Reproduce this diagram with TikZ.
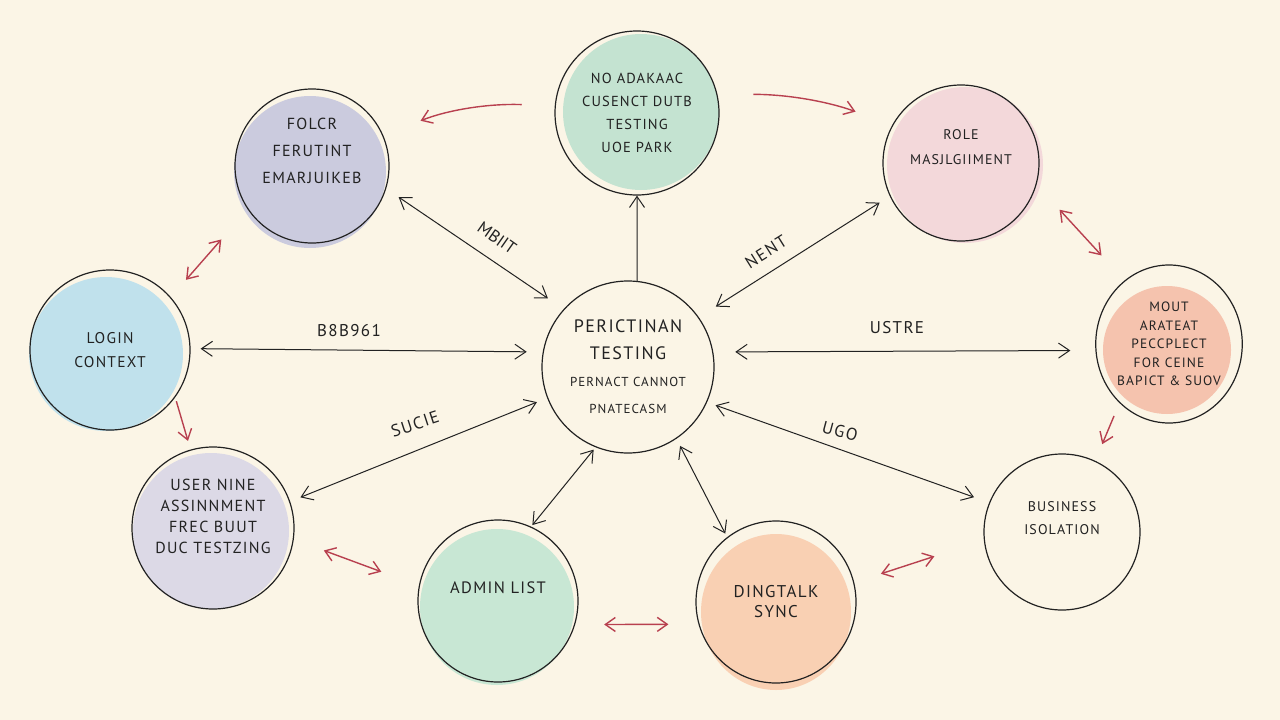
\documentclass[tikz,border=0pt]{standalone}
\usepackage{fontspec}
\setmainfont{PT Sans}[LetterSpace=8]
\usetikzlibrary{arrows.meta,shapes.geometric}
\definecolor{bg}{HTML}{FBF5E6}
\definecolor{redarrow}{HTML}{B8404F}
\definecolor{ink}{HTML}{222222}
\definecolor{fgreen}{HTML}{C4E3D1}
\definecolor{flav}{HTML}{CBCBDE}
\definecolor{fpink}{HTML}{F3D8DA}
\definecolor{fsalmon}{HTML}{F5C3AE}
\definecolor{fblue}{HTML}{C0E1EC}
\definecolor{flav2}{HTML}{DCD9E6}
\definecolor{fgreen2}{HTML}{C8E7D4}
\definecolor{fpeach}{HTML}{F9D0B3}
\tikzset{
  bub/.style={circle, draw=ink, line width=1.2pt, align=center, inner sep=0pt, text=ink},
  egg/.style={ellipse, draw=ink, line width=1.2pt, align=center, inner sep=0pt, text=ink},
  conn/.style={draw=ink, line width=1pt, >={Straight Barb[length=11pt,width=15pt]}},
  redc/.style={draw=redarrow, line width=1.4pt, >={Straight Barb[length=10pt,width=14pt]}},
  lab/.style={text=ink, inner sep=1pt, font=\fontsize{17}{20}\selectfont}
}
\begin{document}
\begin{tikzpicture}[x=1pt,y=-1pt]
\fill[bg] (0,0) rectangle (1280,720);
\useasboundingbox (0,0) rectangle (1280,720);
% colour washes
\fill[fgreen] (641,112) circle[radius=78];
\fill[flav] (310,172) circle[radius=76];
\fill[fpink] (965,165) circle[radius=78];
\fill[fsalmon] (1167,350) circle[radius=64];
\fill[fblue] (106,354) circle[radius=77];
\fill[flav2] (211,531) circle[radius=78];
\fill[fgreen2] (497,607) ellipse[x radius=77, y radius=78];
\fill[fpeach] (776,612) ellipse[x radius=75, y radius=78];
% nodes
\node[bub, minimum size=172pt, font=\fontsize{18}{27}\selectfont] (c) at (628,367)
  {PERICTINAN\\TESTING\\{\fontsize{13}{22}\selectfont PERNACT CANNOT}\\{\fontsize{13}{22}\selectfont PNATECASM}};
\node[bub, minimum size=164pt, font=\fontsize{14.5}{23}\selectfont] (T) at (637,113)
  {NO ADAKAAC\\CUSENCT DUTB\\TESTING\\UOE PARK};
\node[bub, minimum size=154pt, font=\fontsize{16}{27}\selectfont] (TL) at (312,166)
  {FOLCR\\FERUTINT\\EMARJUIKEB\\[4pt]};
\node[bub, minimum size=156pt, font=\fontsize{14}{25}\selectfont] (R) at (961,163)
  {ROLE\\MASJLGIIMENT\\[6pt]};
\node[egg, minimum width=142pt, minimum height=158pt, font=\fontsize{13.5}{18.5}\selectfont] (M) at (1169,344)
  {MOUT\\ARATEAT\\PECCPLECT\\FOR CEINE\\BAPICT \& SUOV};
\node[bub, minimum size=160pt, font=\fontsize{15.5}{24}\selectfont] (L) at (110,350)
  {LOGIN\\CONTEXT};
\node[bub, minimum size=162pt, font=\fontsize{16}{21}\selectfont] (U) at (213,528)
  {USER NINE\\ASSINNMENT\\FREC BUUT\\DUC TESTZING\\[2pt]};
\node[egg, minimum width=160pt, minimum height=162pt, font=\fontsize{16.5}{20}\selectfont] (A) at (498,601)
  {ADMIN LIST\\[6pt]};
\node[egg, minimum width=160pt, minimum height=162pt, font=\fontsize{17}{20}\selectfont] (D) at (776,602)
  {DINGTALK\\SYNC};
\node[bub, minimum size=156pt, font=\fontsize{14}{23}\selectfont] (B) at (1062,532)
  {BUSINESS\\ISOLATION\\[4pt]};
% black connectors
\draw[conn,<->,shorten <=15pt,shorten >=19pt] (TL.-17) -- (c.138);
\draw[conn,->] (c.84) -- (T.-90);
\draw[conn,<->,shorten <=20pt,shorten >=12pt] (c.35) -- (R.-155);
\draw[conn,<->,shorten <=16pt,shorten >=10pt] (c.170) -- (L.1);
\draw[conn,<->,shorten <=22pt,shorten >=25pt] (c.10) -- (M.185);
\draw[conn,<->,shorten <=11pt,shorten >=11pt] (c.-159) -- (U.19);
\draw[conn,<->,shorten <=9pt,shorten >=16pt] (c.-24) -- (B.158);
\draw[conn,<->,shorten <=3pt,shorten >=2pt] (c.-112) -- (A.66);
\draw[conn,<->,shorten <=8pt,shorten >=4pt] (c.-56) -- (D.127);
% connector labels
\node[lab, rotate=-35, font=\fontsize{17}{20}\selectfont\addfontfeature{LetterSpace=0}] (l1) at (497,238) {MBIIT};
\node[lab, rotate=32] (l2) at (766,252) {NENT};
\node[lab] (l3) at (349,331) {B8B961};
\node[lab] (l4) at (897,328) {USTRE};
\node[lab, rotate=18] (l5) at (415,424) {SUCIE};
\node[lab, rotate=-15] (l6) at (840,431) {UGO};
% red connectors
\draw[redc,->,shorten <=33pt,shorten >=40pt] (T.175) to[bend right=12] (TL.23);
\draw[redc,->,shorten <=36pt,shorten >=39pt] (T.13) to[bend left=10] (R.151);
\draw[redc,<->,shorten <=34pt,shorten >=34pt] (R.-16) -- (M.125);
\draw[redc,->,shorten <=14pt,shorten >=18pt] (M.-130) -- (B.65);
\draw[redc,<->,shorten <=23pt,shorten >=40pt] (L.41) -- (TL.-146);
\draw[redc,->,shorten <=4pt,shorten >=9pt] (L.-36) -- (U.106);
\draw[redc,<->,shorten <=32pt,shorten >=40pt] (U.-8) -- (A.169);
\draw[redc,<->,shorten <=29pt,shorten >=30pt] (A.-17) -- (D.-164);
\draw[redc,<->,shorten <=28pt,shorten >=52pt] (D.14) -- (B.-174);
\end{tikzpicture}
\end{document}
